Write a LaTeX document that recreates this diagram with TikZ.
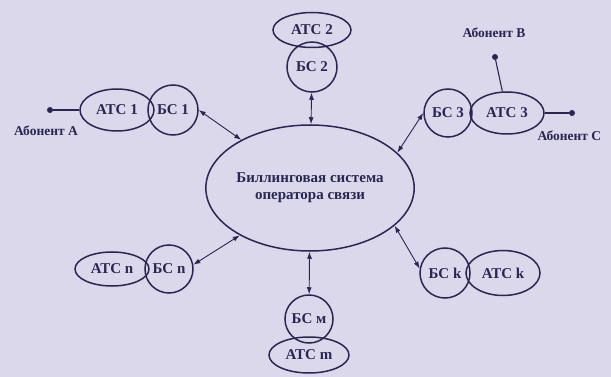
\documentclass[tikz,border=0pt]{standalone}
\usepackage{fontspec}
\setmainfont{Liberation Serif}
\usetikzlibrary{shapes,arrows.meta,positioning}
\definecolor{paper}{RGB}{219,216,236}
\definecolor{ink}{RGB}{42,38,82}

\begin{document}
\begin{tikzpicture}[x=1pt, y=-1pt, color=ink, font=\fontsize{15}{17}\selectfont\bfseries]
% Define block styles
\tikzstyle{billing} = [ellipse, draw, line width=1.5pt, minimum width=180pt,
    minimum height=126pt, align=center, inner sep=0pt]
\tikzstyle{ats} = [ellipse, draw, line width=1.5pt, minimum width=74pt,
    minimum height=42pt, inner sep=0pt]
\tikzstyle{bs} = [circle, draw, line width=1.5pt, minimum size=50pt, inner sep=0pt]
\tikzstyle{line} = [draw, line width=0.9pt, {Latex[length=7pt,width=5pt]}-{Latex[length=7pt,width=5pt]}]
\tikzstyle{wire} = [draw, line width=1.1pt]
\tikzstyle{abon} = [circle, fill, inner sep=0pt, minimum size=6pt]
\tikzstyle{subscriber} = [font=\fontsize{13.5}{15}\selectfont\bfseries]

    \fill[paper] (0,0) rectangle (611,377);
    \useasboundingbox (0,0) rectangle (611,377);
    % Place nodes
    \node [billing] (billing) at (310,188) {Биллинговая система\\оператора связи};
    \node [bs] (bs1) at (173,110) {БС 1};
    \node [ats, left of=bs1, node distance=56pt] (ats1) {АТС 1};
    \node [bs] (bs2) at (312,67) {БС 2};
    \node [ats, above of=bs2, node distance=37pt, minimum width=78pt, minimum height=35pt] (ats2) {АТС 2};
    \node [bs, minimum size=48pt] (bs3) at (448,113) {БС 3};
    \node [ats, right of=bs3, node distance=59pt] (ats3) {АТС 3};
    \node [bs] (bsk) at (445,273) {БС k};
    \node [ats, right of=bsk, node distance=58pt, minimum height=45pt] (atsk) {АТС k};
    \node [bs, minimum size=48pt] (bsm) at (309,319) {БС м};
    \node [ats, below of=bsm, node distance=36pt, minimum width=80pt, minimum height=36pt] (atsm) {АТС m};
    \node [bs, minimum size=48pt] (bsn) at (169,269) {БС n};
    \node [ats, left of=bsn, node distance=57pt, minimum height=34pt] (atsn) {АТС n};
    % Subscribers
    \node [abon] (dotA) at (50,110) {};
    \node [abon] (dotB) at (495,57) {};
    \node [abon] (dotC) at (572,113) {};
    \node [subscriber] (abA) at (46,131) {Абонент А};
    \node [subscriber] (abB) at (494,33) {Абонент В};
    \node [subscriber, anchor=west] (abC) at (534,136) {Абонент С};
    % Draw edges
    \path [line] (bs1.east) -- (billing.145);
    \path [line] (bs2) -- (billing);
    \path [line] (bs3.west) -- (billing.22);
    \path [line] (bsk.170) -- (billing.-24);
    \path [line] (bsm) -- (billing);
    \path [line] (bsn.10) -- (billing.214);
    \path [wire] (dotA) -- (ats1);
    \path [wire] (dotB) -- (ats3);
    \path [wire] (dotC) -- (ats3);
\end{tikzpicture}
\end{document}
